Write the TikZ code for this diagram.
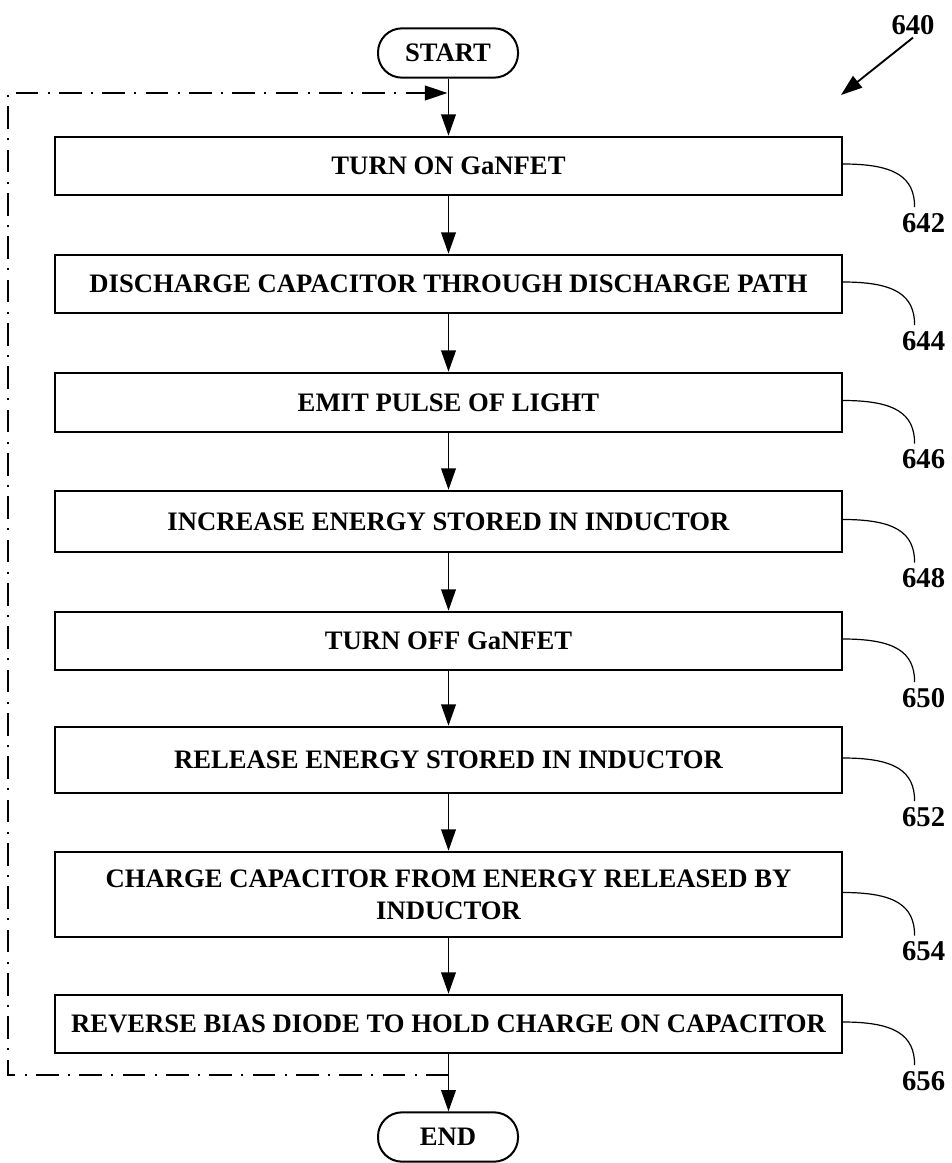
\documentclass[tikz,border=0pt]{standalone}
\usepackage{fontspec}
\setmainfont{Liberation Serif}
\usetikzlibrary{arrows.meta}
\begin{document}
\begin{tikzpicture}[x=0.75pt,y=-0.75pt,
  stepbox/.style={draw, line width=1.9pt, minimum width=590pt, inner sep=0pt, align=center,
    font=\bfseries\fontsize{20}{24}\selectfont},
  term/.style={draw, line width=1.5pt, rounded corners=18pt, minimum width=105pt,
    minimum height=37pt, inner sep=0pt, font=\bfseries\fontsize{20}{24}\selectfont},
  flow/.style={line width=1.2pt, -{Triangle[length=16pt,width=11pt]}},
  loopline/.style={line width=1.5pt, dash pattern=on 17pt off 7pt on 1.5pt off 7pt,
    -{Triangle[length=17pt,width=11pt]}},
  leader/.style={line width=0.9pt},
  reflabel/.style={font=\bfseries\fontsize{21.5}{24}\selectfont, inner sep=0pt}
]
\useasboundingbox (0,0) rectangle (951,1163);

% terminals
\node[term] (start) at (448,53) {START};
\node[term] (end) at (448,1137) {END};

% steps
\node[stepbox, minimum height=43.5pt]  (b1) at (448.5,166)   {TURN ON GaNFET};
\node[stepbox, minimum height=43.5pt]  (b2) at (448.5,284)   {DISCHARGE CAPACITOR THROUGH DISCHARGE PATH};
\node[stepbox, minimum height=44.25pt] (b3) at (448.5,402.5) {EMIT PULSE OF LIGHT};
\node[stepbox, minimum height=45.75pt] (b4) at (448.5,521.5) {INCREASE ENERGY STORED IN INDUCTOR};
\node[stepbox, minimum height=43.5pt]  (b5) at (448.5,641)   {TURN OFF GaNFET};
\node[stepbox, minimum height=49.5pt]  (b6) at (448.5,760)   {RELEASE ENERGY STORED IN INDUCTOR};
\node[stepbox, minimum height=63.75pt] (b7) at (448.5,894.5) {CHARGE CAPACITOR FROM ENERGY RELEASED BY\\INDUCTOR};
\node[stepbox, minimum height=43.5pt]  (b8) at (448.5,1024)  {REVERSE BIAS DIODE TO HOLD CHARGE ON CAPACITOR};

% flow arrows
\draw[flow] (start.south -| b1.north) -- (b1.north);
\draw[flow] (b1) -- (b2);
\draw[flow] (b2) -- (b3);
\draw[flow] (b3) -- (b4);
\draw[flow] (b4) -- (b5);
\draw[flow] (b5) -- (b6);
\draw[flow] (b6) -- (b7);
\draw[flow] (b7) -- (b8);
\draw[flow] (b8.south) -- (b8.south |- end.north);

% loop back
\coordinate (loopB)  at (448.5,1075);
\coordinate (loopBL) at (8,1075);
\coordinate (loopTL) at (8,93);
\coordinate (loopT)  at (447.5,93);
\draw[loopline] (loopB) -- (loopBL) -- (loopTL) -- (loopT);

% figure reference
\node[reflabel] (l640) at (913,25) {640};
\coordinate (tip640) at (841,95);
\draw[line width=1.4pt, -{Triangle[length=16pt,width=11pt]}] ([yshift=-2pt]l640.south) -- (tip640);

% step reference labels
\foreach \b/\lab in {b1/642,b2/644,b3/646,b4/648,b5/650,b6/652,b7/654,b8/656}{
  \node[reflabel] (l\lab) at ([shift={(80.5,57)}]\b.east) {\lab};
  \draw[leader] ([shift={(0,-2)}]\b.east) .. controls +(52,0) and +(0,-30) .. ([shift={(-9,-6)}]l\lab.north);
}
\end{tikzpicture}
\end{document}
